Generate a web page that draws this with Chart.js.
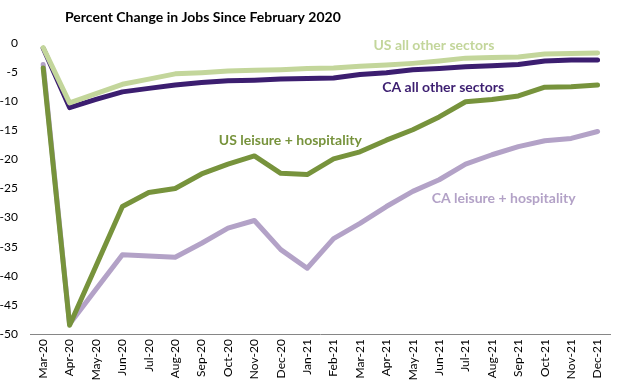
<!DOCTYPE html>
<html>
<head>
<meta charset="utf-8">
<script src="https://cdn.jsdelivr.net/npm/chart.js@4.4.1/dist/chart.umd.min.js"></script>
<style>
  html, body { margin: 0; padding: 0; background: #fff; }
  #wrap { width: 617px; height: 384px; position: relative; }
</style>
</head>
<body>
<div id="wrap"><canvas id="jobsChart"></canvas></div>
<script>
// Dados (variação % vs fev/2020)
const months = ['Mar-20', 'Apr-20', 'May-20', 'Jun-20', 'Jul-20', 'Aug-20', 'Sep-20', 'Oct-20', 'Nov-20', 'Dec-20',
    'Jan-21', 'Feb-21', 'Mar-21', 'Apr-21', 'May-21', 'Jun-21', 'Jul-21', 'Aug-21', 'Sep-21', 'Oct-21', 'Nov-21', 'Dec-21'];

const usAllOther = [-0.8, -10.3, -8.7, -7.1, -6.2, -5.3, -5.1, -4.8, -4.7, -4.6,
    -4.4, -4.3, -4.0, -3.8, -3.5, -3.1, -2.6, -2.5, -2.4, -1.9, -1.8, -1.7];
const caAllOther = [-0.9, -11.1, -9.7, -8.4, -7.8, -7.2, -6.8, -6.5, -6.4, -6.2,
    -6.1, -6.0, -5.4, -5.1, -4.6, -4.4, -4.1, -3.9, -3.7, -3.1, -2.9, -2.9];
const usLeisure = [-4.3, -48.5, -38.3, -28.1, -25.7, -25.0, -22.5, -20.8, -19.4, -22.4,
    -22.6, -19.9, -18.7, -16.7, -14.9, -12.7, -10.1, -9.7, -9.1, -7.6, -7.5, -7.2];
const caLeisure = [-3.7, -48.3, -42.3, -36.4, -36.6, -36.8, -34.4, -31.8, -30.5, -35.5,
    -38.7, -33.6, -31.0, -28.1, -25.5, -23.5, -20.8, -19.2, -17.8, -16.8, -16.4, -15.2];

const yTicks = [0, -5, -10, -15, -20, -25, -30, -35, -40, -45, -50];

// Rótulos das séries (posição em índice de categoria / valor)
const seriesLabels = [
    { text: 'US all other sectors', at: 14.8, value: -0.35, color: '#c3d69b' },
    { text: 'CA all other sectors', at: 15.15, value: -7.7, color: '#3c1e70' },
    { text: 'US leisure + hospitality', at: 9.36, value: -16.7, color: '#77933c' },
    { text: 'CA leisure + hospitality', at: 17.44, value: -26.8, color: '#b3a2c7' }
];

const FONT = 'Lato, "Open Sans", sans-serif';

const labelPlugin = {
    id: 'labelPlugin',
    afterDraw(chart) {
        const { ctx, scales: { x, y } } = chart;
        ctx.save();
        ctx.textAlign = 'center';
        ctx.textBaseline = 'middle';
        ctx.font = 'bold 14px ' + FONT;
        seriesLabels.forEach(l => {
            ctx.fillStyle = l.color;
            ctx.fillText(l.text, x.getPixelForValue(l.at), y.getPixelForValue(l.value));
        });
        ctx.fillStyle = '#000';
        ctx.textAlign = 'left';
        ctx.fillText('Percent Change in Jobs Since February 2020', 65, 17);
        ctx.restore();
    }
};

const mkSet = (label, data, color) => ({
    label, data,
    borderColor: color,
    backgroundColor: color,
    borderWidth: 5,
    pointRadius: 0,
    tension: 0,
    borderCapStyle: 'round',
    borderJoinStyle: 'round'
});

new Chart(document.getElementById('jobsChart'), {
    type: 'line',
    data: {
        labels: months,
        datasets: [
            mkSet('US all other sectors', usAllOther, '#c3d69b'),
            mkSet('CA all other sectors', caAllOther, '#3c1e70'),
            mkSet('US leisure + hospitality', usLeisure, '#77933c'),
            mkSet('CA leisure + hospitality', caLeisure, '#b3a2c7')
        ]
    },
    options: {
        responsive: true,
        maintainAspectRatio: false,
        animation: false,
        layout: { padding: { top: 43, right: 2, left: 0, bottom: 0 } },
        plugins: {
            legend: { display: false },
            tooltip: { enabled: false }
        },
        scales: {
            x: {
                offset: true,
                grid: { display: false, drawTicks: false },
                border: { display: true, color: '#868686', width: 1 },
                afterFit: s => { s.height = 50; },
                ticks: {
                    autoSkip: false,
                    minRotation: 90,
                    maxRotation: 90,
                    padding: 5,
                    color: '#000',
                    font: { family: FONT, size: 12 }
                }
            },
            y: {
                min: -50,
                max: 0,
                afterFit: s => { s.width = 30; },
                afterBuildTicks: s => { s.ticks = yTicks.map(v => ({ value: v })); },
                grid: { display: false, drawTicks: false },
                border: { display: false },
                ticks: {
                    padding: 12,
                    color: '#000',
                    font: { family: FONT, size: 12 }
                }
            }
        }
    },
    plugins: [labelPlugin]
});
</script>
</body>
</html>
